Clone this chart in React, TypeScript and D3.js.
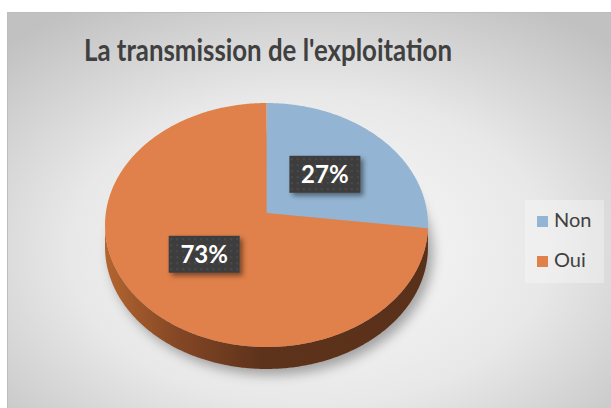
import React, { useEffect, useRef } from 'react'
import * as d3 from 'd3'

const title = "La transmission de l'exploitation"
const categories = ['Non', 'Oui']
const values = [27, 73]
const colors = ['#93b5d3', '#e0804a']

const W = 611
const H = 408

export default function App() {
  const svgRef = useRef<SVGSVGElement>(null)

  useEffect(() => {
    if (!svgRef.current) return
    const svg = d3.select(svgRef.current)
    svg.selectAll('*').remove()

    const frame = { x: 7, y: 12, w: W - 7, h: H - 12 }
    const defs = svg.append('defs')

    // background gradient
    const bg = defs
      .append('radialGradient')
      .attr('id', 'bg')
      .attr('cx', 0.5)
      .attr('cy', 0.6)
      .attr('r', 0.72)
    bg.append('stop').attr('offset', '0%').attr('stop-color', '#fbfbfb')
    bg.append('stop').attr('offset', '55%').attr('stop-color', '#e8e8e8')
    bg.append('stop').attr('offset', '100%').attr('stop-color', '#c1c1c1')

    const side = defs
      .append('linearGradient')
      .attr('id', 'side')
      .attr('gradientUnits', 'userSpaceOnUse')
      .attr('x1', 105)
      .attr('x2', 428)
      .attr('y1', 0)
      .attr('y2', 0)
    side.append('stop').attr('offset', '0%').attr('stop-color', '#b4652f')
    side.append('stop').attr('offset', '22%').attr('stop-color', '#854725')
    side.append('stop').attr('offset', '48%').attr('stop-color', '#5e331b')
    side.append('stop').attr('offset', '100%').attr('stop-color', '#59301a')

    const blur = defs.append('filter').attr('id', 'blur').attr('x', '-20%').attr('y', '-20%').attr('width', '140%').attr('height', '140%')
    blur.append('feGaussianBlur').attr('stdDeviation', 6)

    const boxShadow = defs.append('filter').attr('id', 'boxShadow').attr('x', '-20%').attr('y', '-30%').attr('width', '150%').attr('height', '170%')
    boxShadow
      .append('feDropShadow')
      .attr('dx', 3)
      .attr('dy', 3)
      .attr('stdDeviation', 2.5)
      .attr('flood-color', '#000')
      .attr('flood-opacity', 0.45)

    const dots = defs
      .append('pattern')
      .attr('id', 'dots')
      .attr('width', 6)
      .attr('height', 6)
      .attr('patternUnits', 'userSpaceOnUse')
    dots.append('rect').attr('width', 6).attr('height', 6).attr('fill', '#3e3e3e')
    dots.append('circle').attr('cx', 3).attr('cy', 3).attr('r', 1).attr('fill', '#4d4d4d')

    svg.append('rect').attr('width', W).attr('height', H).attr('fill', '#ffffff')
    svg
      .append('rect')
      .attr('x', frame.x)
      .attr('y', frame.y)
      .attr('width', frame.w)
      .attr('height', frame.h)
      .attr('fill', 'url(#bg)')
    svg
      .append('path')
      .attr('d', `M${frame.x + 0.5},${H}V${frame.y + 0.5}H${W}`)
      .attr('fill', 'none')
      .attr('stroke', '#bdbdbd')

    // title
    svg
      .append('text')
      .attr('x', 268)
      .attr('y', 61)
      .attr('text-anchor', 'middle')
      .attr('font-family', 'Lato, sans-serif')
      .attr('font-weight', 700)
      .attr('font-size', 30)
      .attr('fill', '#404040')
      .attr('textLength', 368)
      .attr('lengthAdjust', 'spacingAndGlyphs')
      .text(title)

    // 3D pie projection
    const cx = 266.5
    const cy = 213
    const A = 160.7
    const B = 120.8
    const k = 0.0983
    const depth = 22
    const proj = (a: number, r = 1): [number, number] => {
      const u = Math.sin(a) * r
      const v = Math.cos(a) * r
      const w = 1 + k * v
      return [cx + (A * u) / w, cy - (B * v) / w]
    }
    const arcPts = (a0: number, a1: number) => {
      const n = Math.max(2, Math.ceil(Math.abs(a1 - a0) / 0.01))
      return d3.range(n + 1).map((i) => proj(a0 + ((a1 - a0) * i) / n))
    }
    const line = d3.line()

    const pie = d3.pie<number>().sort(null).startAngle(0).endAngle(2 * Math.PI)
    const arcs = pie(values)

    // shadow
    const outline = arcPts(0, 2 * Math.PI).map(([x, y]) => [x + 5, y + depth + 6] as [number, number])
    svg
      .append('path')
      .attr('d', line(outline) + 'Z')
      .attr('fill', 'rgba(0,0,0,0.32)')
      .attr('filter', 'url(#blur)')

    // sides (visible front part)
    const aR = Math.acos(-k)
    const aL = 2 * Math.PI - aR
    arcs.forEach((d, i) => {
      const a0 = Math.max(d.startAngle, aR)
      const a1 = Math.min(d.endAngle, aL)
      if (a1 <= a0) return
      const top = arcPts(a0, a1)
      const bottom = top.map(([x, y]) => [x, y + depth] as [number, number]).reverse()
      svg
        .append('path')
        .attr('d', line([...top, ...bottom]) + 'Z')
        .attr('fill', i === 0 ? '#4f6a80' : 'url(#side)')
    })

    // top faces
    arcs.forEach((d, i) => {
      const pts = [[cx, cy] as [number, number], ...arcPts(d.startAngle, d.endAngle)]
      svg
        .append('path')
        .attr('d', line(pts) + 'Z')
        .attr('fill', colors[i])
    })

    // data labels
    arcs.forEach((d) => {
      const [lx, ly] = proj((d.startAngle + d.endAngle) / 2, 0.5)
      const bw = 71
      const bh = 37
      const g = svg.append('g').attr('transform', `translate(${lx},${ly})`)
      g.append('rect')
        .attr('x', -bw / 2)
        .attr('y', -bh / 2)
        .attr('width', bw)
        .attr('height', bh)
        .attr('fill', 'url(#dots)')
        .attr('filter', 'url(#boxShadow)')
      g.append('text')
        .attr('text-anchor', 'middle')
        .attr('y', 8.5)
        .attr('font-family', 'Lato, sans-serif')
        .attr('font-weight', 700)
        .attr('font-size', 24)
        .attr('fill', '#ffffff')
        .text(`${d.data}%`)
    })

    // legend
    svg
      .append('rect')
      .attr('x', 525)
      .attr('y', 200)
      .attr('width', 79)
      .attr('height', 83)
      .attr('fill', 'rgba(255,255,255,0.3)')
    const legend = svg
      .selectAll('g.leg')
      .data(categories)
      .join('g')
      .attr('class', 'leg')
      .attr('transform', (_, i) => `translate(537,${216 + i * 40})`)
    legend
      .append('rect')
      .attr('width', 11)
      .attr('height', 11)
      .attr('fill', (_, i) => colors[i])
    legend
      .append('text')
      .attr('x', 17)
      .attr('y', 11)
      .attr('font-family', 'Lato, sans-serif')
      .attr('font-size', 20)
      .attr('fill', '#404040')
      .text((d) => d)
  }, [])

  return (
    <div style={{ position: 'fixed', left: 0, top: 0 }}>
      <svg ref={svgRef} width={W} height={H} style={{ display: 'block' }} />
    </div>
  )
}
